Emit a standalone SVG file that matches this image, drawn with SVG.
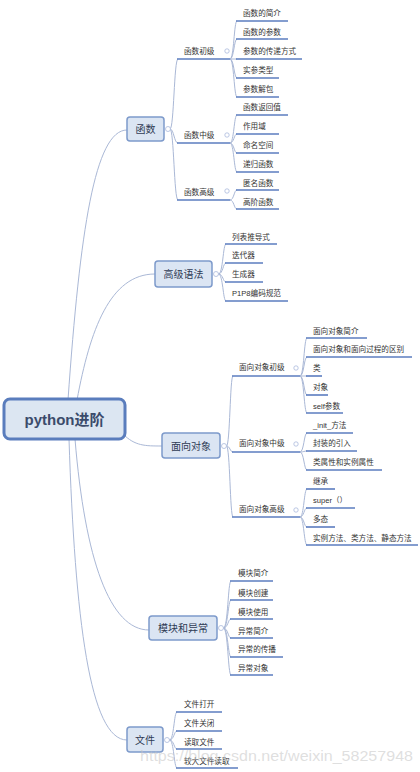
<svg xmlns="http://www.w3.org/2000/svg" width="420" height="772" viewBox="0 0 420 772">
<style>
.conn{fill:none;stroke:#aab8d6;stroke-width:1}
.ul{fill:none;stroke:#5b7cbf;stroke-width:1.6}
.t{font-family:"Liberation Sans","Noto Sans CJK SC",sans-serif;font-size:7.6px;fill:#333}
.l1 rect{fill:#dbe5f3;stroke:#7d9acb;stroke-width:1.5}
.l1 text{font-family:"Liberation Sans","Noto Sans CJK SC",sans-serif;font-size:10px;text-anchor:middle;fill:#2f3b55}
.ic{fill:#fff;stroke:#a9b9dc;stroke-width:0.8}
</style>
<rect width="420" height="772" fill="#fff"/>
<g id="connectors">
<!-- root to level1 -->
<path class="conn" d="M68,400 C80,230 95,130 127,130"/>
<path class="conn" d="M77,400 C90,330 110,274 155,274"/>
<path class="conn" d="M123,434 C135,446 145,446 162,446"/>
<path class="conn" d="M75,439 C85,560 110,630 149,630"/>
<path class="conn" d="M69,439 C75,620 90,740 127,740"/>
<!-- 函数 -> level2 -->
<path class="conn" d="M170,129 C174,129 174,59 178,59"/>
<path class="conn" d="M170,129 C174,129 174,143 178,143"/>
<path class="conn" d="M170,129 C174,129 174,200 178,200"/>
<!-- 函数初级 leaves -->
<path class="conn" d="M230,59 C234,59 234,21 237,21"/>
<path class="conn" d="M230,59 C234,59 234,39 237,39"/>
<path class="conn" d="M230,59 L237,59"/>
<path class="conn" d="M230,59 C234,59 234,78 237,78"/>
<path class="conn" d="M230,59 C234,59 234,97 237,97"/>
<!-- 函数中级 leaves -->
<path class="conn" d="M230,143 C234,143 234,115 237,115"/>
<path class="conn" d="M230,143 C234,143 234,134 237,134"/>
<path class="conn" d="M230,143 C234,143 234,153 237,153"/>
<path class="conn" d="M230,143 C234,143 234,172 237,172"/>
<!-- 函数高级 leaves -->
<path class="conn" d="M230,200 C234,200 234,190 237,190"/>
<path class="conn" d="M230,200 C234,200 234,209 237,209"/>
<!-- 高级语法 leaves -->
<path class="conn" d="M218.5,274 C223,274 223,244 226,244"/>
<path class="conn" d="M218.5,274 C223,274 223,263 226,263"/>
<path class="conn" d="M218.5,274 C223,274 223,282 226,282"/>
<path class="conn" d="M218.5,274 C223,274 223,301 226,301"/>
<!-- 面向对象 -> level2 -->
<path class="conn" d="M226.5,446 C230,446 230,376 233,376"/>
<path class="conn" d="M226.5,446 C230,446 230,452 233,452"/>
<path class="conn" d="M226.5,446 C230,446 230,517 233,517"/>
<!-- 面向对象初级 leaves -->
<path class="conn" d="M300,376 C304,376 304,338 307,338"/>
<path class="conn" d="M300,376 C304,376 304,357 307,357"/>
<path class="conn" d="M300,376 L307,376"/>
<path class="conn" d="M300,376 C304,376 304,395 307,395"/>
<path class="conn" d="M300,376 C304,376 304,413 307,413"/>
<!-- 面向对象中级 leaves -->
<path class="conn" d="M300,452 C304,452 304,433 307,433"/>
<path class="conn" d="M300,452 C304,452 304,451 307,451"/>
<path class="conn" d="M300,452 C304,452 304,470 307,470"/>
<!-- 面向对象高级 leaves -->
<path class="conn" d="M300,517 C304,517 304,489 307,489"/>
<path class="conn" d="M300,517 C304,517 304,508 307,508"/>
<path class="conn" d="M300,517 C304,517 304,527 307,527"/>
<path class="conn" d="M300,517 C304,517 304,545 307,545"/>
<!-- 模块和异常 leaves -->
<path class="conn" d="M223.5,628 C228,628 228,581 231,581"/>
<path class="conn" d="M223.5,628 C228,628 228,600 231,600"/>
<path class="conn" d="M223.5,628 C228,628 228,619 231,619"/>
<path class="conn" d="M223.5,628 C228,628 228,638 231,638"/>
<path class="conn" d="M223.5,628 C228,628 228,657 231,657"/>
<path class="conn" d="M223.5,628 C228,628 228,675 231,675"/>
<!-- 文件 leaves -->
<path class="conn" d="M169.5,740 C174,740 174,712 177,712"/>
<path class="conn" d="M169.5,740 C174,740 174,731 177,731"/>
<path class="conn" d="M169.5,740 C174,740 174,749 177,749"/>
<path class="conn" d="M169.5,740 C174,740 174,768 177,768"/>
</g>

<g id="root">
<rect x="4" y="399" width="121" height="40" rx="6" fill="#dce6f2" stroke="#5a7dbd" stroke-width="3"/>
<text x="64.5" y="425" font-family="Liberation Sans,'Noto Sans CJK SC',sans-serif" font-size="15" font-weight="bold" text-anchor="middle" fill="#3b4b6b">python进阶</text>
</g>

<g id="n-hanshu" class="l1"><rect x="127" y="117" width="37" height="24" rx="3"/><text x="145.5" y="132.5">函数</text><circle class="ic" cx="168" cy="129" r="2.5"/></g>
<g id="n-gaojiyufa" class="l1"><rect x="155" y="261" width="57" height="26" rx="3"/><text x="183.5" y="277.5">高级语法</text><circle class="ic" cx="216" cy="274" r="2.5"/></g>
<g id="n-mianxiangduixiang" class="l1"><rect x="162" y="433" width="58" height="25" rx="3"/><text x="191" y="449.5">面向对象</text><circle class="ic" cx="224" cy="446" r="2.5"/></g>
<g id="n-mokuai" class="l1"><rect x="149" y="616" width="68" height="24" rx="3"/><text x="183" y="631.5">模块和异常</text><circle class="ic" cx="221" cy="628" r="2.5"/></g>
<g id="n-wenjian" class="l1"><rect x="127" y="727" width="36" height="25" rx="3"/><text x="145" y="743.5">文件</text><circle class="ic" cx="167" cy="740" r="2.5"/></g>

<!-- level 2 -->
<g id="n-hanshu-chuji"><line class="ul" x1="177" y1="59" x2="230" y2="59"/><text class="t" x="184" y="54">函数初级</text><circle class="ic" cx="227" cy="51" r="2.2"/></g>
<g id="n-hanshu-zhongji"><line class="ul" x1="177" y1="143" x2="230" y2="143"/><text class="t" x="184" y="138">函数中级</text><circle class="ic" cx="227" cy="135" r="2.2"/></g>
<g id="n-hanshu-gaoji"><line class="ul" x1="177" y1="200" x2="230" y2="200"/><text class="t" x="184" y="195">函数高级</text><circle class="ic" cx="227" cy="191" r="2.2"/></g>
<g id="n-mx-chuji"><line class="ul" x1="232" y1="376" x2="300" y2="376"/><text class="t" x="239" y="370">面向对象初级</text><circle class="ic" cx="296" cy="368" r="2.2"/></g>
<g id="n-mx-zhongji"><line class="ul" x1="232" y1="452" x2="300" y2="452"/><text class="t" x="239" y="446">面向对象中级</text><circle class="ic" cx="296" cy="444" r="2.2"/></g>
<g id="n-mx-gaoji"><line class="ul" x1="232" y1="517" x2="300" y2="517"/><text class="t" x="239" y="512">面向对象高级</text><circle class="ic" cx="296" cy="510" r="2.2"/></g>

<!-- leaves 函数 -->
<g id="l1"><line class="ul" x1="236" y1="21" x2="288" y2="21"/><text class="t" x="243" y="16">函数的简介</text></g>
<g id="l2"><line class="ul" x1="236" y1="39" x2="288" y2="39"/><text class="t" x="243" y="35">函数的参数</text></g>
<g id="l3"><line class="ul" x1="236" y1="59" x2="302" y2="59"/><text class="t" x="243" y="54">参数的传递方式</text></g>
<g id="l4"><line class="ul" x1="236" y1="78" x2="279" y2="78"/><text class="t" x="243" y="73">实参类型</text></g>
<g id="l5"><line class="ul" x1="236" y1="97" x2="279" y2="97"/><text class="t" x="243" y="92">参数解包</text></g>
<g id="l6"><line class="ul" x1="236" y1="115" x2="288" y2="115"/><text class="t" x="243" y="110">函数返回值</text></g>
<g id="l7"><line class="ul" x1="236" y1="134" x2="279" y2="134"/><text class="t" x="243" y="129">作用域</text></g>
<g id="l8"><line class="ul" x1="236" y1="153" x2="279" y2="153"/><text class="t" x="243" y="148">命名空间</text></g>
<g id="l9"><line class="ul" x1="236" y1="172" x2="279" y2="172"/><text class="t" x="243" y="167">递归函数</text></g>
<g id="l10"><line class="ul" x1="236" y1="190" x2="279" y2="190"/><text class="t" x="243" y="186">匿名函数</text></g>
<g id="l11"><line class="ul" x1="236" y1="209" x2="279" y2="209"/><text class="t" x="243" y="205">高阶函数</text></g>

<!-- leaves 高级语法 -->
<g id="l12"><line class="ul" x1="225" y1="244" x2="277" y2="244"/><text class="t" x="232" y="240">列表推导式</text></g>
<g id="l13"><line class="ul" x1="225" y1="263" x2="263" y2="263"/><text class="t" x="232" y="258">迭代器</text></g>
<g id="l14"><line class="ul" x1="225" y1="282" x2="263" y2="282"/><text class="t" x="232" y="277">生成器</text></g>
<g id="l15"><line class="ul" x1="225" y1="301" x2="288" y2="301"/><text class="t" x="232" y="296">P1P8编码规范</text></g>

<!-- leaves 面向对象 -->
<g id="l16"><line class="ul" x1="306" y1="338" x2="367" y2="338"/><text class="t" x="313" y="334">面向对象简介</text></g>
<g id="l17"><line class="ul" x1="306" y1="357" x2="412" y2="357"/><text class="t" x="313" y="352">面向对象和面向过程的区别</text></g>
<g id="l18"><line class="ul" x1="306" y1="376" x2="322" y2="376"/><text class="t" x="313" y="371">类</text></g>
<g id="l19"><line class="ul" x1="306" y1="395" x2="328" y2="395"/><text class="t" x="313" y="390">对象</text></g>
<g id="l20"><line class="ul" x1="306" y1="413" x2="343" y2="413"/><text class="t" x="313" y="409">self参数</text></g>
<g id="l21"><line class="ul" x1="306" y1="433" x2="353" y2="433"/><text class="t" x="313" y="428">_init_方法</text></g>
<g id="l22"><line class="ul" x1="306" y1="451" x2="357" y2="451"/><text class="t" x="313" y="446">封装的引入</text></g>
<g id="l23"><line class="ul" x1="306" y1="470" x2="382" y2="470"/><text class="t" x="313" y="465">类属性和实例属性</text></g>
<g id="l24"><line class="ul" x1="306" y1="489" x2="335" y2="489"/><text class="t" x="313" y="484">继承</text></g>
<g id="l25"><line class="ul" x1="306" y1="508" x2="355" y2="508"/><text class="t" x="313" y="503">super（）</text></g>
<g id="l26"><line class="ul" x1="306" y1="527" x2="335" y2="527"/><text class="t" x="313" y="522">多态</text></g>
<g id="l27"><line class="ul" x1="306" y1="545" x2="418" y2="545"/><text class="t" x="313" y="541">实例方法、类方法、静态方法</text></g>

<!-- leaves 模块和异常 -->
<g id="l28"><line class="ul" x1="230" y1="581" x2="273" y2="581"/><text class="t" x="238" y="576">模块简介</text></g>
<g id="l29"><line class="ul" x1="230" y1="600" x2="273" y2="600"/><text class="t" x="238" y="596">模块创建</text></g>
<g id="l30"><line class="ul" x1="230" y1="619" x2="273" y2="619"/><text class="t" x="238" y="615">模块使用</text></g>
<g id="l31"><line class="ul" x1="230" y1="638" x2="273" y2="638"/><text class="t" x="238" y="634">异常简介</text></g>
<g id="l32"><line class="ul" x1="230" y1="657" x2="283" y2="657"/><text class="t" x="238" y="652">异常的传播</text></g>
<g id="l33"><line class="ul" x1="230" y1="675" x2="273" y2="675"/><text class="t" x="238" y="671">异常对象</text></g>

<!-- leaves 文件 -->
<g id="l34"><line class="ul" x1="176" y1="712" x2="222" y2="712"/><text class="t" x="184" y="707">文件打开</text></g>
<g id="l35"><line class="ul" x1="176" y1="731" x2="222" y2="731"/><text class="t" x="184" y="726">文件关闭</text></g>
<g id="l36"><line class="ul" x1="176" y1="749" x2="222" y2="749"/><text class="t" x="184" y="745">读取文件</text></g>
<g id="l37"><line class="ul" x1="176" y1="768" x2="238" y2="768"/><text class="t" x="184" y="764">较大文件读取</text></g>

<text x="140" y="761" font-family="Liberation Sans,sans-serif" font-size="15" fill="#c4c4c4" fill-opacity="0.55" textLength="273" lengthAdjust="spacingAndGlyphs">https://blog.csdn.net/weixin_58257948</text>
</svg>
